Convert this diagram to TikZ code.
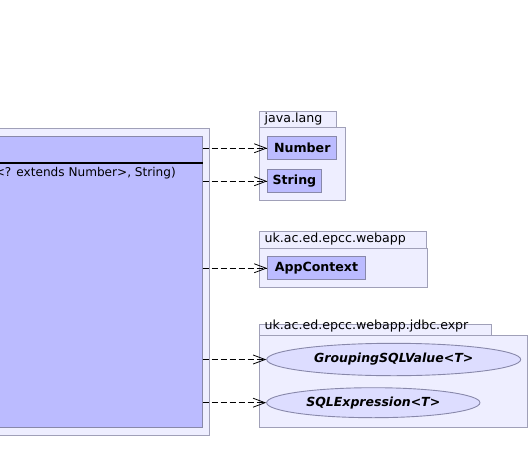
\documentclass[tikz,border=0pt]{standalone}
\usepackage{fontspec}
\setmainfont{DejaVu Sans}
\usetikzlibrary{arrows.meta,shapes.geometric}
\definecolor{pkgfill}{RGB}{238,238,255}
\definecolor{pkgline}{RGB}{160,160,184}
\definecolor{clsfill}{RGB}{187,187,255}
\definecolor{clsline}{RGB}{136,136,170}
\definecolor{ifcfill}{RGB}{221,221,255}
\tikzset{
  pkgbox/.style={draw=pkgline, fill=pkgfill, line width=0.9pt, inner sep=0pt, anchor=north west},
  pkgtab/.style={draw=pkgline, fill=pkgfill, line width=0.9pt, inner sep=0pt, anchor=north west},
  pkglbl/.style={anchor=west, inner sep=0pt, font=\fontsize{12.6}{14}\selectfont},
  clsbox/.style={draw=clsline, fill=clsfill, line width=0.9pt, inner sep=0pt, anchor=north west,
                 font=\fontsize{12.6}{14}\selectfont\bfseries},
  ifcbox/.style={ellipse, draw=clsline, fill=ifcfill, line width=0.9pt, inner sep=0pt,
                 font=\fontsize{12.5}{14}\selectfont\bfseries\itshape},
  dep/.style={dash pattern=on 6pt off 3pt, line width=0.8pt, -{Straight Barb[length=12pt,width=9pt,line width=0.8pt]}}
}
\begin{document}
\begin{tikzpicture}[x=1pt,y=-1pt]
\useasboundingbox (0,0) rectangle (531,472);
\clip (0,0) rectangle (531,472);
% left package and class
\node[pkgbox, minimum width=229pt, minimum height=307pt] (lpkg) at (-20,127.5) {};
\node[clsbox, minimum width=211.7pt, minimum height=291pt] (cls) at (-10,136) {};
\coordinate (sepl) at (-10,162.7);
\draw[line width=1.8pt] (sepl) -- (sepl -| cls.east);
\node[anchor=east, font=\fontsize{12.1}{14}\selectfont, inner sep=0pt] (sig) at (176,173) {<? extends Number>, String)};
% java.lang
\node[pkgtab, minimum width=76.5pt, minimum height=16.6pt] (jltab) at (259.3,110.7) {};
\node[pkglbl] (jllbl) at (264.5,119) {java.lang};
\node[pkgbox, minimum width=85.4pt, minimum height=73pt] (jlbody) at (259.3,127.3) {};
\node[clsbox, minimum width=69pt, minimum height=23pt] (num) at (267.3,136.3) {Number};
\node[clsbox, minimum width=53.4pt, minimum height=23pt] (str) at (267.3,169.3) {String};
% webapp
\node[pkgtab, minimum width=166.4pt, minimum height=17.6pt] (watab) at (259.3,230.7) {};
\node[pkglbl] (walbl) at (264.5,239.5) {uk.ac.ed.epcc.webapp};
\node[pkgbox, minimum width=167.4pt, minimum height=39pt] (wabody) at (259.3,248.3) {};
\node[clsbox, minimum width=97.4pt, minimum height=23pt] (app) at (267.3,256.3) {AppContext};
% jdbc.expr
\node[pkgtab, minimum width=231.4pt, minimum height=10.7pt] (jxtab) at (259.3,324.3) {};
\node[pkglbl] (jxlbl) at (264.5,326.5) {uk.ac.ed.epcc.webapp.jdbc.expr};
\node[pkgbox, minimum width=267.4pt, minimum height=91.7pt] (jxbody) at (259.3,335) {};
\node[ifcbox, minimum width=254pt, minimum height=32.4pt] (grp) at (393.7,359.5) {GroupingSQLValue<T>};
\node[ifcbox, minimum width=213.3pt, minimum height=30pt] (sqle) at (373.3,402.7) {SQLExpression<T>};
% dependencies
\draw[dep] (cls.east |- num.west) -- (num.west);
\draw[dep] (cls.east |- str.west) -- (str.west);
\draw[dep] (cls.east |- app.west) -- (app.west);
\draw[dep] (cls.east |- grp.west) -- (grp.west);
\draw[dep] (cls.east |- sqle.west) -- (sqle.west);
\end{tikzpicture}
\end{document}
